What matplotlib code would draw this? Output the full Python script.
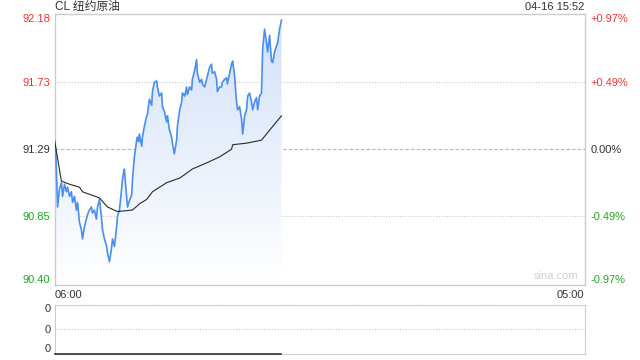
import numpy as np
import matplotlib
matplotlib.use('Agg')
import matplotlib.pyplot as plt

plt.rcParams['font.family'] = ['Liberation Sans', 'Noto Sans CJK SC', 'DejaVu Sans']

# minutes after 06:00, last quote 15:52
minutes = [0, 3, 8, 13, 18, 21, 26, 31, 34, 39, 44, 47, 52, 57, 60, 65, 70, 73, 78, 83,
           86, 91, 96, 99, 104, 109, 112, 117, 122, 125, 130, 135, 138, 143, 148, 151, 156, 161, 164, 169,
           174, 177, 180, 182, 185, 190, 195, 201, 203, 208, 214, 216, 219, 221, 227, 229, 234, 240, 242, 247,
           253, 255, 260, 266, 268, 273, 279, 281, 286, 292, 294, 299, 305, 307, 312, 318, 320, 326, 331, 333,
           339, 344, 346, 352, 357, 359, 365, 370, 372, 378, 383, 385, 391, 396, 398, 404, 409, 411, 417, 422,
           424, 430, 435, 437, 443, 448, 450, 456, 461, 464, 469, 474, 477, 482, 487, 490, 495, 500, 503, 508,
           513, 516, 521, 526, 529, 534, 539, 542, 547, 552, 555, 560, 565, 568, 573, 578, 581, 586, 591]
prices = [91.35, 91.29, 90.91, 91.03, 91.07, 90.98, 91.06, 91.01, 91.04, 90.98, 91.01, 90.94, 90.98, 90.89, 90.94, 90.81, 90.76, 90.70, 90.78, 90.83,
          90.86, 90.89, 90.91, 90.87, 90.89, 90.83, 90.91, 90.96, 90.85, 90.76, 90.70, 90.66, 90.61, 90.55, 90.63, 90.70, 90.65, 90.76, 90.85, 90.89,
          91.01, 91.09, 91.14, 91.16, 91.06, 90.91, 90.95, 90.99, 91.09, 91.24, 91.35, 91.37, 91.34, 91.39, 91.31, 91.37, 91.44, 91.51, 91.52, 91.62,
          91.58, 91.67, 91.73, 91.74, 91.70, 91.64, 91.66, 91.57, 91.54, 91.47, 91.51, 91.42, 91.37, 91.33, 91.26, 91.35, 91.44, 91.55, 91.60, 91.66,
          91.64, 91.70, 91.65, 91.70, 91.68, 91.75, 91.81, 91.88, 91.79, 91.73, 91.75, 91.72, 91.70, 91.75, 91.77, 91.83, 91.85, 91.79, 91.80, 91.75,
          91.67, 91.70, 91.70, 91.73, 91.75, 91.76, 91.72, 91.79, 91.85, 91.87, 91.77, 91.60, 91.55, 91.57, 91.49, 91.39, 91.51, 91.55, 91.64, 91.66,
          91.60, 91.55, 91.60, 91.63, 91.55, 91.64, 91.66, 91.95, 92.08, 91.99, 91.93, 92.04, 91.87, 91.86, 91.93, 91.97, 91.99, 92.08, 92.14]

avg_minutes = [0, 18, 39, 65, 73, 117, 138, 164, 203, 221, 240, 255, 292, 326, 359, 396, 430, 461, 464, 500, 539, 552, 568, 591]
avg_prices = [91.35, 91.08, 91.06, 91.04, 91.01, 90.97, 90.91, 90.88, 90.89, 90.93, 90.96, 91.01, 91.07, 91.10, 91.16,
              91.20, 91.24, 91.29, 91.32, 91.33, 91.35, 91.39, 91.44, 91.51]

volume = [0] * len(minutes)

price_ticks = [92.18, 91.73, 91.29, 90.85, 90.40]
price_labels = ['92.18', '91.73', '91.29', '90.85', '90.40']
pct_labels = ['+0.97%', '+0.49%', '0.00%', '-0.49%', '-0.97%']
tick_colors = ['#f03434', '#f03434', '#333333', '#1fa81f', '#1fa81f']
time_ticks = [0, 1380]
time_labels = ['06:00', '05:00']

RED = '#f03434'
BORDER = '#cccccc'

fig = plt.figure(figsize=(6.4, 3.6), dpi=100)
ax = fig.add_axes([54.5 / 640, 1 - 284.5 / 360, 530 / 640, 270.5 / 360])
ax.set_xlim(0, 1380)
ax.set_ylim(price_ticks[-1], price_ticks[0])

# gradient fill under the price line
poly = ax.fill_between(minutes, prices, price_ticks[-1], facecolor='none', edgecolor='none')
top_c = np.array([0.82, 0.88, 0.975])
bot_c = np.array([1.0, 1.0, 1.0])
g = np.linspace(0, 1, 256)[:, None]
img = (bot_c * (1 - g) + top_c * g)[:, None, :]
im = ax.imshow(img, extent=[0, minutes[-1], price_ticks[-1], price_ticks[0]], origin='lower',
               aspect='auto', zorder=1)
im.set_clip_path(poly.get_paths()[0], transform=ax.transData)

for p in price_ticks[1:-1]:
    if p == 91.29:
        ax.axhline(p, color='#b5b5b5', lw=0.8, ls=(0, (3, 2)), zorder=0.5)
    else:
        ax.axhline(p, color='#c8c8c8', lw=0.8, ls=(0, (1, 1.5)), zorder=0.5)

ax.plot(minutes, prices, color='#4a8ef0', lw=1.2, zorder=3)
ax.plot(avg_minutes, avg_prices, color='#2a2a2a', lw=0.8, zorder=4)

for s in ax.spines.values():
    s.set_color(BORDER)
    s.set_linewidth(1)

ax.set_yticks(price_ticks)
ax.set_yticklabels(price_labels)
ax.tick_params(axis='y', length=0, pad=3, labelsize=8)
for lab, c in zip(ax.get_yticklabels(), tick_colors):
    lab.set_color(c)
ylabs = ax.get_yticklabels()
ylabs[0].set_va('top')
ylabs[-1].set_va('bottom')

ax.set_xticks(time_ticks)
ax.set_xticklabels(time_labels)
ax.tick_params(axis='x', length=0, pad=4, labelsize=8, labelcolor='#333333')
xlabs = ax.get_xticklabels()
xlabs[0].set_ha('left')
xlabs[1].set_ha('right')

ax2 = ax.twinx()
ax2.set_ylim(ax.get_ylim())
ax2.set_yticks(price_ticks)
ax2.set_yticklabels(pct_labels)
ax2.tick_params(axis='y', length=0, pad=4.5, labelsize=8)
for lab, c in zip(ax2.get_yticklabels(), tick_colors):
    lab.set_color(c)
rlabs = ax2.get_yticklabels()
rlabs[0].set_va('top')
rlabs[-1].set_va('bottom')
for s in ax2.spines.values():
    s.set_visible(False)

ax.text(0.988, 0.012, 'sina.com', transform=ax.transAxes, ha='right', va='bottom',
        color='#d0d0d0', fontsize=8)

fig.text(55 / 640, 1 - 7 / 360, 'CL 纽约原油', ha='left', va='center', fontsize=8.5, color='#333333')
fig.text(584 / 640, 1 - 7 / 360, '04-16 15:52', ha='right', va='center', fontsize=8, color='#333333')

# volume panel
axv = fig.add_axes([54.5 / 640, 1 - 354 / 360, 530 / 640, 49.5 / 360])
axv.set_xlim(0, 1380)
axv.set_ylim(0, 1)
axv.plot(minutes, volume, color='#333333', lw=1.2, clip_on=False, zorder=3)
axv.axhline(0.5, color='#c8c8c8', lw=0.8, ls=(0, (1, 1.5)))
for side in ['left', 'right']:
    axv.spines[side].set_color(BORDER)
for side in ['top', 'bottom']:
    axv.spines[side].set_color('#c8c8c8')
    axv.spines[side].set_linestyle((0, (1, 1.5)))
    axv.spines[side].set_linewidth(0.8)
axv.set_xticks([])
axv.set_yticks([0, 0.5, 1])
axv.set_yticklabels(['0', '0', '0'])
axv.tick_params(axis='y', length=0, pad=3, labelsize=8, labelcolor='#333333')
vlabs = axv.get_yticklabels()
vlabs[0].set_va('bottom')
vlabs[2].set_va('top')

fig.savefig('out.png', dpi=100)
